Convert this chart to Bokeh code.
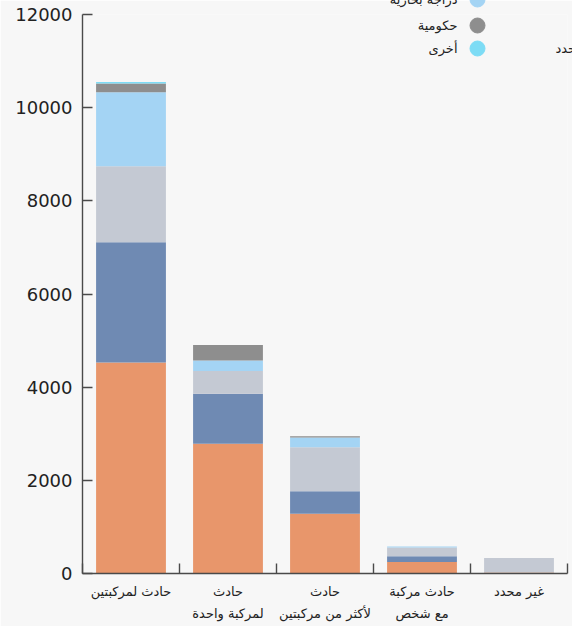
from bokeh.plotting import figure
from bokeh.models import ColumnDataSource, Range1d, FixedTicker
from bokeh.core.properties import value
from bokeh.embed import file_html
from bokeh.resources import INLINE

# ---- data ----
categories = ["حادث لمركبتين", "حادث\nلمركبة واحدة", "حادث\nلأكثر من مركبتين", "حادث مركبة\nمع شخص", "غير محدد"]
series_names = ["خاصة", "نقل", "غير محدد", "دراجة بخارية", "حكومية", "أخرى"]
private = [4530, 2785, 1280, 245, 20]
transport = [2580, 1075, 485, 125, 0]
unknown = [1630, 485, 945, 190, 315]
motorcycle = [1590, 230, 210, 20, 0]
government = [190, 330, 28, 0, 0]
other = [30, 0, 0, 0, 0]
y_ticks = [0, 2000, 4000, 6000, 8000, 10000, 12000]
colors = ["#E8966B", "#6F8AB3", "#C4C9D3", "#A4D4F4", "#8E8E8E", "#7DDCF5"]

FONT = "DejaVu Sans"
BG = "#F7F7F7"

keys = ["s0", "s1", "s2", "s3", "s4", "s5"]
series_values = [private, transport, unknown, motorcycle, government, other]
data = {"x": [i + 0.5 for i in range(len(categories))]}
for k, v in zip(keys, series_values):
    data[k] = v
source = ColumnDataSource(data)

W, H = 572, 626
LEFT, RIGHT, TOP, BOTTOM = 82, 5, 14, 53

p = figure(width=W, height=H, output_backend="svg", toolbar_location=None,
           x_range=Range1d(0, len(categories)), y_range=Range1d(0, 12000),
           min_border_left=LEFT, min_border_right=RIGHT, min_border_top=TOP, min_border_bottom=BOTTOM,
           background_fill_color=BG, border_fill_color=BG, outline_line_color=None)
p.xgrid.visible = False
p.ygrid.visible = False

p.vbar_stack(keys, x="x", width=0.72, color=colors, line_color=None, source=source)

# y axis
ya = p.yaxis[0]
ya.ticker = FixedTicker(ticks=y_ticks, minor_ticks=[])
ya.major_tick_in = 10
ya.major_tick_out = 0
ya.minor_tick_line_color = None
ya.axis_line_color = "#4a4a4a"
ya.axis_line_width = 1.4
ya.major_tick_line_color = "#4a4a4a"
ya.major_tick_line_width = 1.4
ya.major_label_text_font = FONT
ya.major_label_text_font_size = "18px"
ya.major_label_text_color = "#222222"
ya.major_label_standoff = 10

# x axis
xa = p.xaxis[0]
centers = [i + 0.5 for i in range(len(categories))]
bounds = [float(i) for i in range(len(categories) + 1)]
xa.ticker = FixedTicker(ticks=centers, minor_ticks=bounds)
xa.major_label_overrides = {c: lab for c, lab in zip(centers, categories)}
xa.major_tick_line_color = None
xa.minor_tick_in = 10
xa.minor_tick_out = 0
xa.minor_tick_line_color = "#4a4a4a"
xa.minor_tick_line_width = 1.4
xa.axis_line_color = "#4a4a4a"
xa.axis_line_width = 1.4
xa.major_label_text_font = FONT
xa.major_label_text_font_size = "13px"
xa.major_label_text_color = "#222222"
xa.major_label_text_line_height = 1.5
xa.major_label_standoff = 4

# ---- legend (RTL layout, partially outside the view like the original) ----
p.extra_x_ranges = {"px": Range1d(LEFT, W - RIGHT)}
p.extra_y_ranges = {"py": Range1d(H - BOTTOM, TOP)}
leg_cols_x = [625, 477]   # circle centres (right column first, RTL)
leg_rows_y = [-1, 25, 48]
lx, ly, tx, lab, lc = [], [], [], [], []
for i, name in enumerate(series_names):
    col, row = divmod(i, 3)
    if col == 0 and row < 2:
        continue  # these entries lie wholly outside the visible page, as in the original
    lx.append(leg_cols_x[col]); ly.append(leg_rows_y[row]); tx.append(leg_cols_x[col] - 20)
    lab.append(name); lc.append(colors[i])
p.scatter(x=lx, y=ly, size=15, color=lc, x_range_name="px", y_range_name="py", level="overlay")
p.text(x=tx, y=ly, text=lab, text_align="right", text_baseline="middle",
       text_font=value(FONT), text_font_size="13px", text_color="#222222",
       x_range_name="px", y_range_name="py", level="overlay")

open("out.html", "w").write(file_html(p, INLINE))
